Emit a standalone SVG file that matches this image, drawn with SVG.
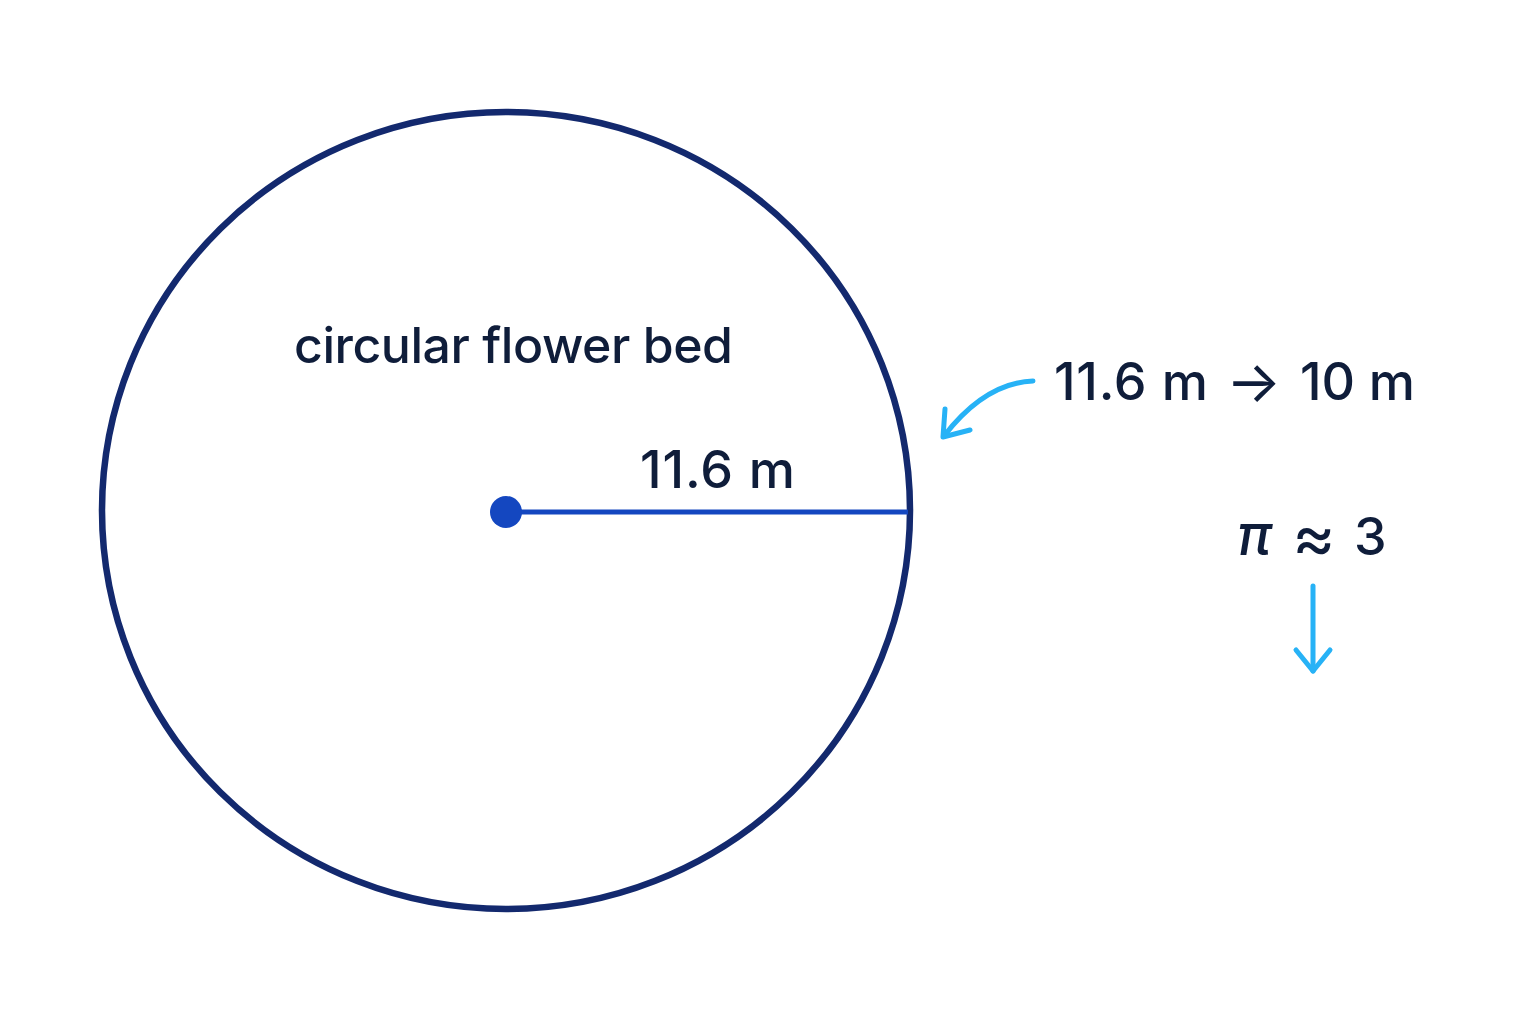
<svg xmlns="http://www.w3.org/2000/svg" width="1536" height="1024" viewBox="0 0 1536 1024">
<style>
text{font-family:Inter,"Noto Sans","Liberation Sans",sans-serif;fill:#0f1d3a;font-weight:500}
.arr{fill:none;stroke:#27b2f6;stroke-width:5;stroke-linecap:round;stroke-linejoin:round}
</style>
<rect width="1536" height="1024" fill="#ffffff"/>
<g id="flower-bed">
<ellipse cx="506" cy="510.5" rx="404" ry="398.5" fill="none" stroke="#13296e" stroke-width="6.5"/>
<text x="294" y="363" font-size="50" textLength="439" lengthAdjust="spacing">circular flower bed</text>
</g>
<g id="radius">
<line x1="506" y1="512" x2="908" y2="512" stroke="#1447c0" stroke-width="5"/>
<circle cx="506" cy="512" r="16" fill="#1447c0"/>
<text x="640" y="488" font-size="52" textLength="155" lengthAdjust="spacing">11.6 m</text>
</g>
<g id="rounding">
<text y="400" font-size="52"><tspan x="1054" textLength="154" lengthAdjust="spacing">11.6 m</tspan><tspan x="1226" dy="2" font-size="58" font-weight="400">→</tspan><tspan x="1300" dy="-2" textLength="115" lengthAdjust="spacing">10 m</tspan></text>
</g>
<g id="pi">
<text y="555" font-size="52"><tspan x="1237" font-style="italic" font-size="56">π</tspan><tspan x="1292" dy="5" font-size="66" font-weight="400">≈</tspan><tspan x="1354" dy="-5">3</tspan></text>
</g>
<g id="connectors">
<path class="arr" d="M1033,381 Q985,383 944,436"/>
<path class="arr" d="M945,409 L943,437 L970,430"/>
<path class="arr" d="M1313,586 L1313,671"/>
<path class="arr" d="M1296,650 L1313,671 L1330,650"/>
</g>
</svg>
